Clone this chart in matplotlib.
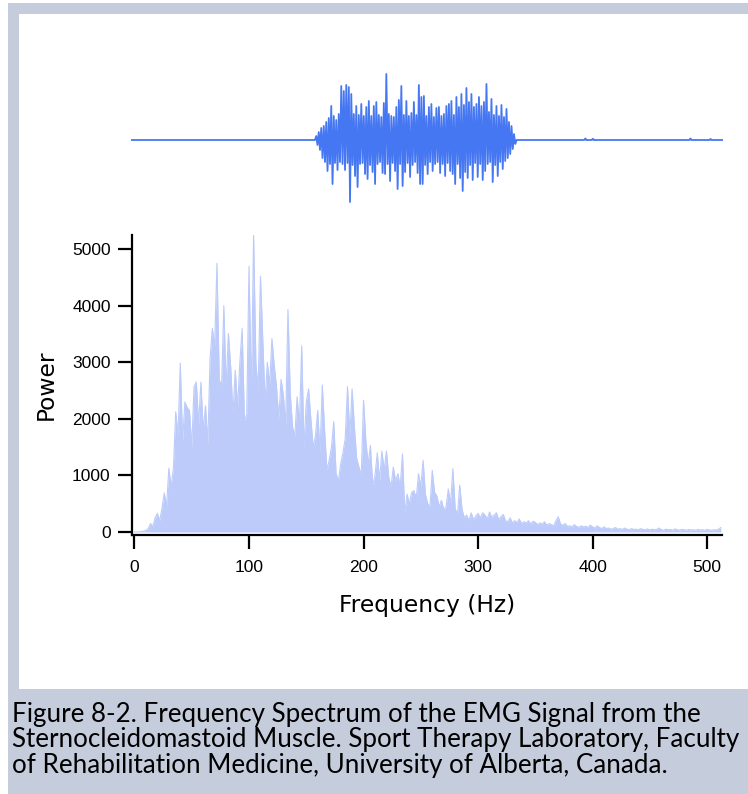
import numpy as np
import matplotlib.pyplot as plt
from matplotlib.patches import Rectangle

W, H = 748, 794

# raw EMG burst: positive and negative peak per cycle
emg_up = [4, 8, 12, 14, 18, 22, 34, 24, 20, 26,
          54, 49, 55, 53, 46, 26, 34, 25, 36, 24,
          33, 39, 24, 34, 38, 25, 23, 37, 66, 26,
          24, 23, 33, 40, 54, 25, 39, 24, 27, 38,
          25, 55, 43, 44, 24, 33, 36, 23, 32, 33,
          24, 26, 34, 36, 39, 25, 43, 33, 46, 35,
          52, 38, 46, 33, 36, 43, 34, 38, 56, 28,
          41, 25, 34, 24, 35, 23, 31, 18, 14, 6]
emg_down = [5, 10, 18, 22, 31, 24, 44, 23, 30, 22,
            24, 30, 23, 62, 25, 36, 47, 24, 23, 34,
            39, 25, 32, 44, 24, 22, 33, 34, 24, 41,
            23, 31, 49, 24, 46, 32, 23, 37, 25, 22,
            33, 44, 44, 25, 34, 22, 31, 24, 22, 33,
            24, 36, 23, 31, 34, 44, 24, 38, 51, 32,
            38, 25, 40, 23, 37, 24, 40, 31, 24, 22,
            42, 25, 36, 22, 29, 21, 18, 14, 9, 4]
emg_rest_before = 148
emg_rest_after = 166
emg_blip_at = [55, 61, 139, 155]
emg_blip_amp = [1.5, 1.2, 1.5, 1.0]

# power spectrum, 2 Hz bins from 0 Hz
bin_hz = 2
spec_power = [
    0, 0, 0, 10, 15, 30, 60, 150, 100, 250,
    330, 200, 420, 690, 450, 1130, 800, 1130, 2125, 1700,
    2985, 1600, 2300, 2200, 2150, 1500, 2570, 2650, 1900, 2650,
    1800, 2230, 1560, 3070, 3600, 3280, 4750, 2700, 2560, 4000,
    2560, 3510, 2920, 2080, 2860, 2200, 3000, 3600, 1970, 2080,
    4700, 2400, 5250, 2980, 2500, 4520, 3420, 2300, 3000, 2600,
    3420, 2950, 2570, 2000, 2700, 2420, 1900, 3935, 2450, 1860,
    1700, 2390, 1900, 3290, 1500, 2300, 2530, 2000, 1500, 1700,
    2150, 1400, 2600, 1800, 1100, 1270, 1500, 1950, 1040, 900,
    1200, 1400, 1650, 2570, 1700, 2530, 1860, 1300, 1150, 1000,
    2330, 1620, 1200, 1530, 830, 1000, 1400, 900, 1430, 1100,
    1430, 970, 800, 1150, 900, 1030, 800, 1380, 340, 670,
    500, 700, 730, 600, 1030, 800, 1270, 670, 500, 450,
    1090, 700, 640, 450, 560, 400, 440, 760, 500, 1120,
    420, 300, 830, 400, 250, 300, 200, 340, 220, 280,
    330, 250, 340, 300, 230, 355, 260, 300, 340, 220,
    270, 310, 200, 180, 250, 160, 200, 170, 230, 150,
    180, 160, 200, 140, 190, 170, 130, 160, 140, 180,
    120, 150, 130, 110, 200, 270, 140, 120, 150, 100,
    110, 90, 130, 100, 80, 110, 90, 100, 80, 120,
    90, 70, 110, 80, 60, 90, 60, 70, 50, 60,
    80, 50, 60, 45, 70, 50, 40, 60, 45, 50,
    40, 60, 45, 40, 55, 35, 50, 40, 45, 70,
    40, 35, 50, 40, 45, 30, 55, 40, 35, 45,
    40, 30, 45, 35, 40, 30, 45, 35, 40, 30,
    45, 35, 30, 40, 35, 50, 80]

freq_ticks = [0, 100, 200, 300, 400, 500]
power_ticks = [0, 1000, 2000, 3000, 4000, 5000]

caption = ["Figure 8-2. Frequency Spectrum of the EMG Signal from the",
           "Sternocleidomastoid Muscle. Sport Therapy Laboratory, Faculty",
           "of Rehabilitation Medicine, University of Alberta, Canada."]

FRAME = '#C5CCDC'
EMG_BLUE = '#4677F2'
SPEC_BLUE = '#BCCBFA'


def box(x0, y0, x1, y1):
    # pixel box (from top-left) -> figure fraction rect
    return [x0 / W, 1 - y1 / H, (x1 - x0) / W, (y1 - y0) / H]


fig = plt.figure(figsize=(W / 100, H / 100), dpi=100)
fig.patch.set_facecolor('white')
fig.add_artist(Rectangle((8 / W, 0), 1, 1 - 3 / H, transform=fig.transFigure,
                         facecolor=FRAME, edgecolor='none', zorder=-10))
r = box(19, 14, W, 689)
fig.add_artist(Rectangle((r[0], r[1]), r[2], r[3], transform=fig.transFigure,
                         facecolor='white', edgecolor='none', zorder=-9))

# --- raw EMG trace ---
burst = np.empty(2 * len(emg_up))
burst[0::2] = emg_up
burst[1::2] = -np.array(emg_down)
rest_after = np.zeros(emg_rest_after)
rest_after[emg_blip_at] = emg_blip_amp
signal = np.concatenate([np.zeros(emg_rest_before), burst, rest_after])
t = np.arange(len(signal))

ax1 = fig.add_axes(box(131, 60, 723, 220))
ax1.fill_between(t, 0, signal, color=EMG_BLUE, lw=0)
ax1.plot(t, signal, color=EMG_BLUE, lw=1.3)
ax1.set_xlim(0, len(signal) - 1)
ax1.set_ylim(-80, 80)
ax1.axis('off')

# --- power spectrum ---
power = np.array(spec_power)
freq = np.arange(len(power)) * bin_hz

ax2 = fig.add_axes(box(131.5, 234.5, 722, 535))
ax2.fill_between(freq, 0, power, color=SPEC_BLUE, lw=0)
ax2.plot(freq, power, color=SPEC_BLUE, lw=0.8)
ax2.set_xlim(-2.6, 513)
ax2.set_ylim(-53, 5260)
ax2.set_xticks(freq_ticks)
ax2.set_yticks(power_ticks)
for side in ['top', 'right']:
    ax2.spines[side].set_visible(False)
for side in ['left', 'bottom']:
    ax2.spines[side].set_linewidth(1.6)
ax2.tick_params(length=10, width=1.6, labelsize=12.5, direction='out')
ax2.tick_params(axis='x', pad=8)
ax2.tick_params(axis='y', pad=5)
for lab in ax2.get_xticklabels() + ax2.get_yticklabels():
    lab.set_family('Liberation Sans')
ax2.set_xlabel('Frequency (Hz)', fontsize=16.8, family='DejaVu Sans', labelpad=14)
ax2.set_ylabel('Power', fontsize=16.8, family='DejaVu Sans', labelpad=10)

# --- caption ---
for i, line in enumerate(caption):
    fig.text(12 / W, 1 - (722 + 25.5 * i) / H, line, fontsize=18.7,
             family='Lato', va='baseline', ha='left')

fig.savefig('out.png', dpi=100)
